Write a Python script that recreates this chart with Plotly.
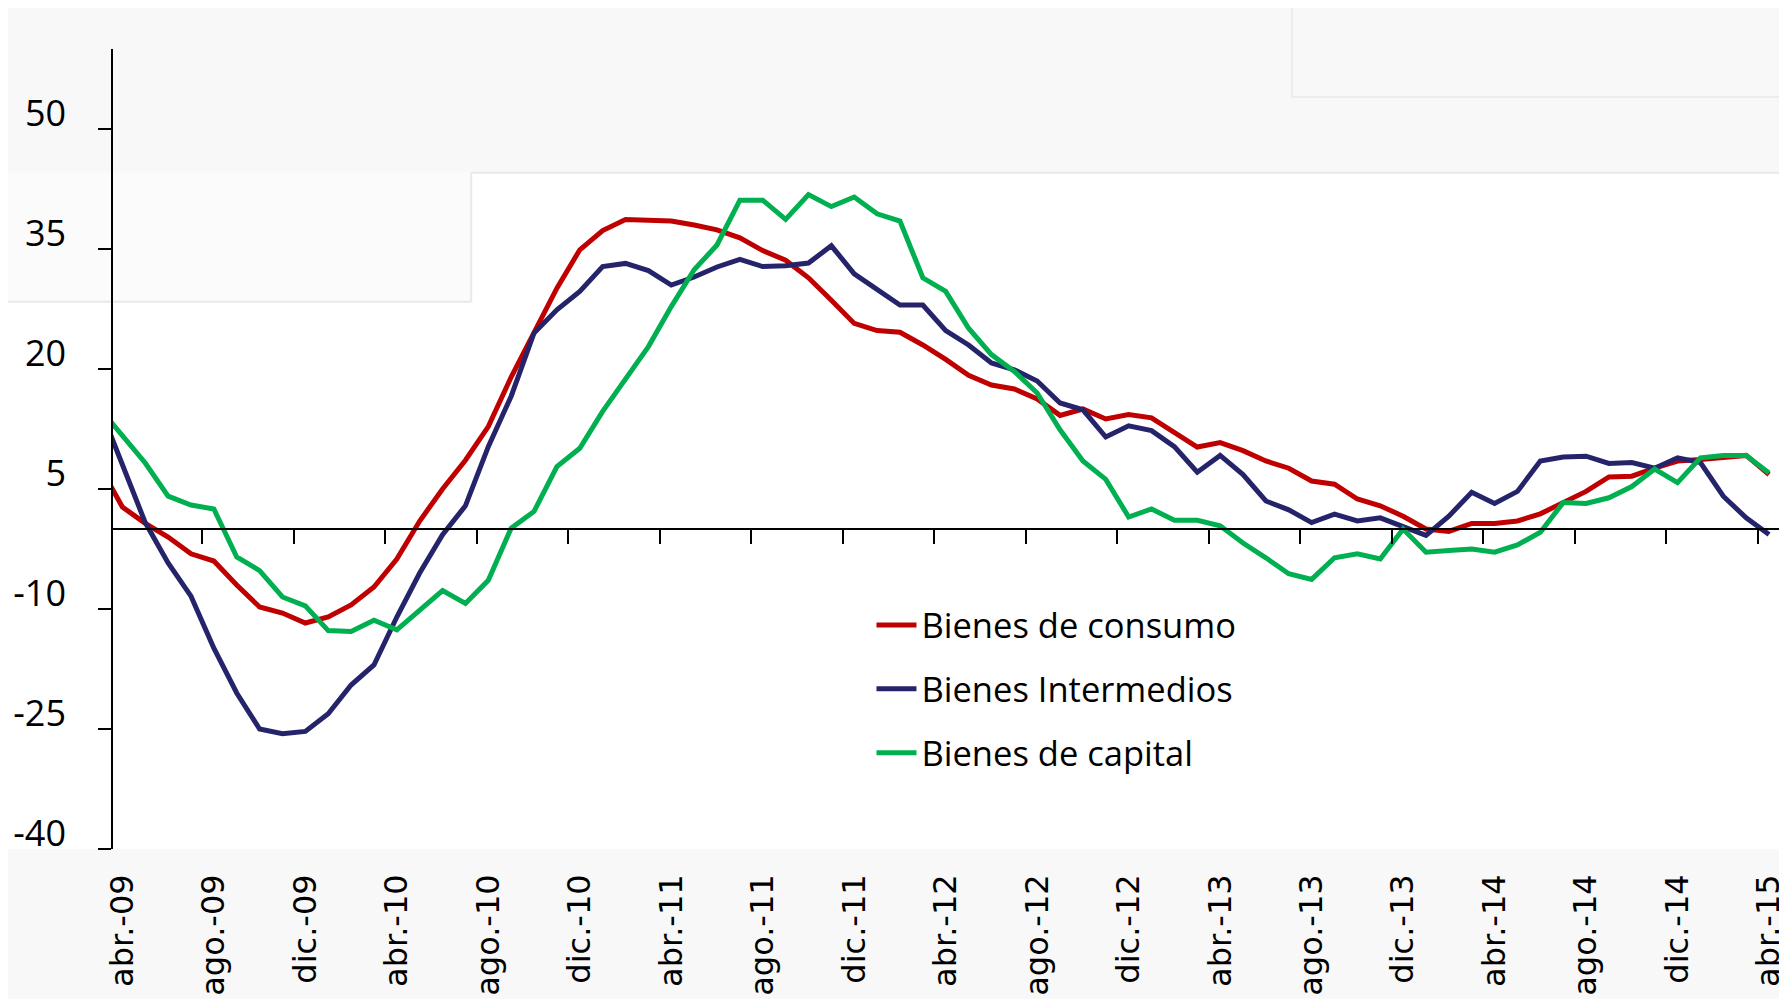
import plotly.graph_objects as go

# Month categories (mar.-09 is only partly visible, clipped at the y axis)
month_abbr = ["ene.", "feb.", "mar.", "abr.", "may.", "jun.", "jul.", "ago.", "sep.", "oct.", "nov.", "dic."]
months = []
for yy in range(9, 16):
    for m, ab in enumerate(month_abbr):
        if (yy == 9 and m < 2) or (yy == 15 and m > 3):
            continue
        months.append(f"{ab}-{yy:02d}")

consumo = [7.9, 2.75, 0.7, -1.0, -3.1, -4.0, -7.0, -9.75, -10.5, -11.75, -11.0, -9.5, -7.25, -3.75, 1.0,
           5.0, 8.6, 12.8, 19.0, 24.5, 30.1, 34.9, 37.3, 38.7, 38.6, 38.5, 38.0, 37.4, 36.4, 34.8,
           33.6, 31.4, 28.6, 25.7, 24.8, 24.6, 23.0, 21.2, 19.2, 18.0, 17.5, 16.25, 14.2, 15.0, 13.75,
           14.3, 13.9, 12.0, 10.25, 10.8, 9.8, 8.5, 7.6, 6.0, 5.6, 3.75, 2.9, 1.6, 0.0, -0.3,
           0.7, 0.7, 1.0, 1.9, 3.3, 4.7, 6.5, 6.6, 7.6, 8.5, 8.7, 9.0, 9.2, 6.8]

intermedios = [15.3, 8.2, 0.8, -4.25, -8.4, -14.9, -20.5, -25.0, -25.6, -25.3, -23.1, -19.5, -17.0, -11.0, -5.5,
               -0.7, 2.9, 10.3, 16.6, 24.5, 27.4, 29.7, 32.8, 33.2, 32.3, 30.5, 31.5, 32.75, 33.7, 32.8,
               32.9, 33.25, 35.4, 31.9, 29.9, 28.0, 28.0, 24.8, 23.0, 20.75, 19.9, 18.5, 15.75, 14.9, 11.5,
               12.9, 12.3, 10.3, 7.1, 9.2, 6.8, 3.5, 2.4, 0.8, 1.85, 1.0, 1.4, 0.3, -0.8, 1.6,
               4.6, 3.2, 4.7, 8.5, 9.0, 9.1, 8.2, 8.3, 7.6, 8.9, 8.3, 4.1, 1.4, -0.7]

capital = [15.1, 11.7, 8.25, 4.1, 3.0, 2.5, -3.5, -5.2, -8.5, -9.6, -12.7, -12.8, -11.4, -12.6, -10.2,
           -7.7, -9.3, -6.4, 0.1, 2.2, 7.8, 10.1, 14.7, 18.7, 22.8, 27.8, 32.4, 35.5, 41.1, 41.1,
           38.7, 41.8, 40.3, 41.5, 39.4, 38.5, 31.4, 29.7, 25.1, 21.8, 19.7, 17.0, 12.4, 8.5, 6.2,
           1.5, 2.5, 1.1, 1.1, 0.4, -1.75, -3.6, -5.6, -6.3, -3.6, -3.1, -3.75, 0.0, -2.9, -2.7,
           -2.5, -2.9, -2.0, -0.4, 3.3, 3.2, 3.9, 5.3, 7.5, 5.8, 8.9, 9.2, 9.2, 7.0]

series_names = ["Bienes de consumo", "Bienes Intermedios", "Bienes de capital"]
series_colors = ["#C00000", "#25246B", "#00B050"]
y_ticks = [-40, -25, -10, 5, 20, 35, 50]

# numeric positions: mar.-09 -> -1, abr.-09 -> 0, ... abr.-15 -> 72
xpos = list(range(-1, len(months) - 1))
label_idx = list(range(1, len(months), 4))
tick_labels = [months[k] for k in label_idx]
tick_pos = [xpos[k] for k in label_idx]
boundary_ticks = [p + 3.5 for p in tick_pos[:-1]]

fig = go.Figure()
for name, vals, col in zip(series_names, [consumo, intermedios, capital], series_colors):
    fig.add_trace(go.Scatter(x=xpos, y=vals, mode="lines", name=name,
                             line=dict(color=col, width=5), legendgroup=name))

# invisible helper trace for the axis drawn at y=0
fig.add_trace(go.Scatter(x=xpos, y=consumo, xaxis="x2", mode="lines",
                         line=dict(width=0, color="rgba(0,0,0,0)"), showlegend=False,
                         hoverinfo="skip"))

xr = [-0.41, 72.48]

# faint background regions (screenshot backdrop)
px0 = -0.07
shapes = [
    dict(type="rect", xref="paper", yref="paper", x0=px0, x1=1.0, y0=0.8454, y1=1.07,
         fillcolor="#f8f8f8", line=dict(width=0), layer="below"),
    dict(type="line", xref="paper", yref="paper", x0=0.2149, x1=1.0, y0=0.8454, y1=0.8454,
         line=dict(color="#e9e9e9", width=2), layer="below"),
    dict(type="rect", xref="paper", yref="paper", x0=px0, x1=0.2149, y0=0.6841, y1=0.8454,
         fillcolor="#fbfbfb", line=dict(width=0), layer="below"),
    dict(type="line", xref="paper", yref="paper", x0=px0, x1=0.2149, y0=0.6841, y1=0.6841,
         line=dict(color="#e9e9e9", width=2), layer="below"),
    dict(type="line", xref="paper", yref="paper", x0=0.2149, x1=0.2149, y0=0.6841, y1=0.8454,
         line=dict(color="#e9e9e9", width=2), layer="below"),
    dict(type="rect", xref="paper", yref="paper", x0=0.7073, x1=1.0, y0=0.94, y1=1.07,
         fillcolor="rgba(0,0,0,0)", line=dict(color="#ececec", width=2), layer="below"),
    dict(type="rect", xref="paper", yref="paper", x0=px0, x1=1.0, y0=-0.19, y1=0.0,
         fillcolor="#f8f8f8", line=dict(width=0), layer="below"),
]

# the page body adds an 8px offset, so the figure is 8px smaller than the window
fig.update_layout(
    width=1779, height=991,
    margin=dict(l=105, r=0, t=41, b=150),
    paper_bgcolor="white",
    plot_bgcolor="rgba(0,0,0,0)",
    showlegend=True,
    legend=dict(x=0.455, y=0.20, xanchor="left", yanchor="middle",
                font=dict(family="Open Sans", size=34.5, color="black"),
                bgcolor="rgba(0,0,0,0)", tracegroupgap=16, itemwidth=40),
    shapes=shapes,
    xaxis=dict(range=xr, tickmode="array", tickvals=tick_pos, ticktext=tick_labels,
               tickangle=-90, showgrid=False, zeroline=False, showline=False, ticks="",
               tickfont=dict(family="DejaVu Sans", size=32, color="black"),
               ticklabelstandoff=18, ticklabeloverflow="allow"),
    xaxis2=dict(range=xr, overlaying="x", anchor="free", position=0.4, side="bottom",
                showgrid=False, zeroline=False, showline=True, linecolor="black", linewidth=2,
                ticks="outside", ticklen=14, tickwidth=2, tickcolor="black",
                tickmode="array", tickvals=boundary_ticks, showticklabels=False),
    yaxis=dict(range=[-40, 60], tickmode="array", tickvals=y_ticks,
               ticktext=[str(v) for v in y_ticks], showgrid=False, zeroline=False,
               showline=True, linecolor="black", linewidth=1.5,
               ticks="outside", ticklen=13, tickwidth=1.5, tickcolor="black",
               tickfont=dict(family="Open Sans", size=36, color="black"),
               ticklabelstandoff=25, ticklabelshift=-16),
)

fig.write_html("out.html")
